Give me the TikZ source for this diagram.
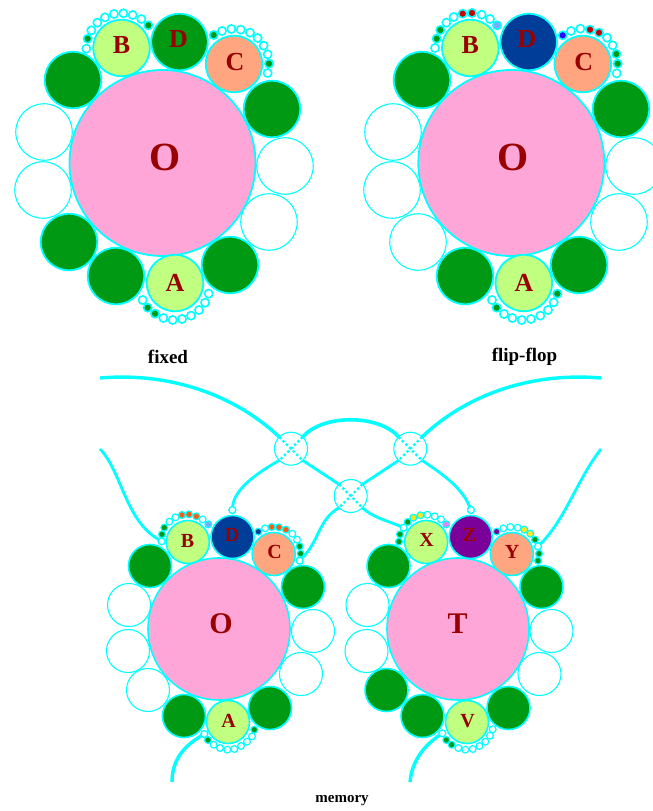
\documentclass[tikz,border=0pt]{standalone}
\usepackage{fontspec}
\setmainfont{Liberation Serif}
\definecolor{cyn}{HTML}{00FFFF}
\definecolor{pk}{HTML}{FFA6D9}
\definecolor{lg}{HTML}{C0FF80}
\definecolor{sal}{HTML}{FFA680}
\definecolor{gr}{HTML}{009914}
\definecolor{dbl}{HTML}{003D99}
\definecolor{pur}{HTML}{7A0099}
\definecolor{rd}{HTML}{CC0000}
\definecolor{org}{HTML}{FF5A0F}
\definecolor{yel}{HTML}{FFE614}
\definecolor{lbl}{HTML}{80A6FF}
\definecolor{vio}{HTML}{E680FF}
\definecolor{blu}{HTML}{3300FF}
\definecolor{txt}{HTML}{990000}
\tikzset{
  x=1pt,y=-1pt,
  ball/.style={circle,draw=cyn,inner sep=0pt,outer sep=0pt,line width=1.8pt},
  bigO/.style={ball,minimum size=186pt,fill=pk},
  bigS/.style={ball,minimum size=56.5pt},
  bigE/.style={bigS,fill=white,line width=1.1pt},
  midO/.style={ball,minimum size=142pt,fill=pk,line width=1.6pt},
  midS/.style={ball,minimum size=43pt,line width=1.6pt},
  midE/.style={midS,fill=white,line width=1.1pt},
  beadL/.style={ball,minimum size=8.2pt,line width=1.6pt},
  beadS/.style={ball,minimum size=6.8pt,line width=1.2pt},
  cross/.style={ball,minimum size=33pt,line width=1.1pt,fill=white},
  ltr/.style={inner sep=0pt,text=txt,font=\bfseries\fontsize{#1}{#1}\selectfont},
  cap/.style={inner sep=0pt,text=black,font=\bfseries\fontsize{#1}{#1}\selectfont},
  wire/.style={draw=cyn,line width=3.4pt},
  wireT/.style={draw=cyn,line width=2.8pt},
  xdash/.style={draw=cyn,line width=2.4pt,dash pattern=on 2.4pt off 2.4pt}
}
% prefix, origin x, origin y, style, list of zoomx/zoomy/colour
\newcommand{\beadset}[5]{%
  \foreach \zx/\zy/\cc [count=\ii] in {#5}
    \node[#4,fill=\cc] (#1\ii) at ({#2+\zx/3},{#3+\zy/3}) {};}
\newcommand{\bl}[4]{\node[bigS,fill=#4] (#1) at (#2,#3) {};}
\newcommand{\be}[3]{\node[bigE] (#1) at (#2,#3) {};}
\newcommand{\ml}[4]{\node[midS,fill=#4] (#1) at (#2,#3) {};}
\newcommand{\me}[3]{\node[midE] (#1) at (#2,#3) {};}
\begin{document}
\begin{tikzpicture}
\clip (0,0) rectangle (653,811);
\fill[white] (0,0) rectangle (653,811);

\node[cross] (c1) at (291,448.7) {};
\node[cross] (c2) at (410.3,448.7) {};
\node[cross] (c3) at (350.7,496) {};
\coordinate (tl) at (100,378);
\coordinate (tr) at (601,378);
\coordinate (ml) at (100,449);
\coordinate (mr) at (601,449);
\coordinate (bl) at (172,782);
\coordinate (br) at (410,782);

% ---------- fixed
\beadset{fb}{70}{0}{beadL}{49/146/white,53/116/gr,64/91/white,82/68/white,105/52/white,132/42/white,160/40/white,188/45/white,214/57/white,235/76/gr}
\beadset{fc}{70}{0}{beadL}{431/105/gr,456/93/white,484/87/white,512/89/white,540/98/white,563/114/white,581/137/white,593/163/white,597/191/gr,593/219/white}
\beadset{fa}{130}{260}{beadL}{38/120/white,53/143/gr,75/161/gr,100/174/white,128/180/white,156/177/white,183/167/white,207/150/white,225/128/white,236/101/white}
\node[bigO] (fO) at (162.5,163) {};
\bl{f1}{73}{80}{gr}
\bl{f2}{272}{109}{gr}
\be{f3}{285}{166}
\be{f4}{269}{222}
\bl{f5}{230}{265}{gr}
\bl{f6}{116}{276}{gr}
\bl{f7}{69}{242}{gr}
\be{f8}{43}{190}
\be{f9}{44}{132}
\bl{fB}{121.5}{48}{lg}
\bl{fD}{179.5}{42}{gr}
\bl{fC}{234}{64}{sal}
\bl{fA}{175}{283}{lg}
\node[ltr=40] (fOt) at (165,157) {O};
\node[ltr=26] (fBt) at (121.5,45) {B};
\node[ltr=26] (fDt) at (178.5,39) {D};
\node[ltr=26] (fCt) at (235,62) {C};
\node[ltr=26] (fAt) at (175,283) {A};
\node[cap=19] (fcap) at (168,356.5) {fixed};

% ---------- flip-flop
\beadset{gb}{420}{0}{beadL}{45/144/white,50/116/gr,61/90/gr,79/68/white,101/51/white,128/41/rd,156/39/rd,185/44/white,210/57/white,231/76/lbl}
\beadset{gc}{420}{0}{beadL}{428/106/blu,453/93/white,481/86/white,510/89/rd,537/98/rd,561/113/white,578/136/white,589/162/gr,593/191/gr,590/220/white}
\beadset{ga}{480}{260}{beadL}{36/120/white,50/143/gr,72/162/white,97/174/white,125/180/white,153/177/white,181/167/white,204/150/white,221/127/white,232/101/gr}
\node[bigO] (gO) at (511.3,163) {};
\bl{g1}{422}{80}{gr}
\bl{g2}{621}{109}{gr}
\be{g3}{634}{166}
\be{g4}{619}{222}
\bl{g5}{579}{265}{gr}
\bl{g6}{465}{276}{gr}
\be{g7}{418}{242}
\be{g8}{392}{190}
\be{g9}{393}{132}
\bl{gB}{470.3}{48}{lg}
\bl{gD}{528.7}{42}{dbl}
\bl{gC}{582.8}{64}{sal}
\bl{gA}{523.8}{283}{lg}
\node[ltr=40] (gOt) at (513.5,157) {O};
\node[ltr=26] (gBt) at (470.3,45) {B};
\node[ltr=26] (gDt) at (527,39) {D};
\node[ltr=26] (gCt) at (583.8,62) {C};
\node[ltr=26] (gAt) at (524,283) {A};
\node[cap=19] (gcap) at (524.5,356.5) {flip-flop};

% ---------- memory, O side
\beadset{mb}{150}{500}{beadS}{35/124/white,36/103/gr,43/83/gr,58/65/white,76/52/white,96/45/org,117/43/org,139/49/org,158/58/white,175/73/lbl}
\beadset{mc}{150}{500}{beadS}{325/95/dbl,345/85/white,365/81/org,387/82/org,408/89/org,427/101/white,441/119/white,449/139/gr,452/161/gr,449/182/white}
\beadset{md}{150}{500}{beadS}{247/30/white}
\beadset{ma}{160}{700}{beadS}{133/102/white,144/120/gr,161/134/white,180/144/white,202/149/white,223/147/white,243/138/white,261/125/white,276/109/white,283/89/gr}
% ---------- memory, T side
\beadset{nb}{385}{500}{beadS}{42/125/gr,45/103/gr,56/83/white,68/66/gr,85/53/yel,106/46/yel,127/44/white,149/49/white,168/58/white,184/73/vio}
\beadset{nc}{385}{500}{beadS}{335/95/pur,355/85/white,376/81/white,398/83/white,418/89/yel,436/101/yel,450/119/gr,459/139/white,462/161/gr,459/182/gr}
\beadset{nd}{385}{500}{beadS}{258/30/white}
\beadset{na}{400}{700}{beadS}{127/100/white,139/120/gr,155/134/gr,175/144/white,196/149/white,218/147/white,238/138/white,256/125/white,270/107/white,278/88/white}

% ---------- connectors
\draw[wire] (tl) .. controls (170,372) and (235,395) .. (c1.135);
\draw[wire] (tr) .. controls (530,372) and (466,395) .. (c2.45);
\draw[wire,line width=3.6pt] (c1.45) .. controls (322,414) and (379,414) .. (c2.135);
\draw[wireT] (c1.225) .. controls (255,474) and (234,490) .. (md1);
\draw[wireT] (c1.315) -- (c3.135);
\draw[wireT] (c2.225) -- (c3.45);
\draw[wireT] (c2.315) .. controls (444,475) and (462,488) .. (nd1);
\draw[wireT] (c3.225) .. controls (318,520) and (320,540) .. (mc10);
\draw[wireT] (c3.315) .. controls (372,517) and (385,520) .. (nb3);
\draw[wireT] (ml) .. controls (122,472) and (125,520) .. (mb1);
\draw[wireT] (mr) .. controls (578,478) and (565,520) .. (nc8);
\draw[wire] (bl) .. controls (172,758) and (186,745) .. (ma1);
\draw[wire] (br) .. controls (412,760) and (425,745) .. (na1);
\draw[xdash] (c1.135) -- (c1.315);
\draw[xdash] (c1.45) -- (c1.225);
\draw[xdash] (c2.135) -- (c2.315);
\draw[xdash] (c2.45) -- (c2.225);
\draw[xdash] (c3.135) -- (c3.315);
\draw[xdash] (c3.45) -- (c3.225);
% connected beads on top of their wires
\node[beadS,fill=white] (md1b) at (md1) {};
\node[beadS,fill=white] (nd1b) at (nd1) {};
\node[beadS,fill=white] (mc10b) at (mc10) {};
\node[beadS,fill=white] (nb3b) at (nb3) {};
\node[beadS,fill=white] (mb1b) at (mb1) {};
\node[beadS,fill=white] (nc8b) at (nc8) {};
\node[beadS,fill=white] (ma1b) at (ma1) {};
\node[beadS,fill=white] (na1b) at (na1) {};

% ---------- memory circles
\node[midO] (mO) at (219,629) {};
\ml{m1}{150}{566}{gr}
\ml{m2}{303}{587}{gr}
\me{m3}{313}{631}
\me{m4}{301}{674}
\ml{m5}{270}{708}{gr}
\ml{m6}{184}{716}{gr}
\me{m7}{148}{690}
\me{m8}{128}{651}
\me{m9}{129}{605}
\ml{mB}{187.8}{542}{lg}
\ml{mD}{232.5}{537}{dbl}
\ml{mC}{273.7}{554}{sal}
\ml{mA}{228}{722}{lg}
\node[ltr=30] (mOt) at (221,624) {O};
\node[ltr=20] (mBt) at (187.5,541) {B};
\node[ltr=20] (mDt) at (232,535) {D};
\node[ltr=20] (mCt) at (274.5,552) {C};
\node[ltr=20] (mAt) at (228.5,721) {A};

\node[midO] (nO) at (458,629) {};
\ml{n1}{388.5}{566}{gr}
\ml{n2}{541.5}{587}{gr}
\me{n3}{551.5}{631}
\me{n4}{539.5}{674}
\ml{n5}{508.5}{708}{gr}
\ml{n6}{422.5}{716}{gr}
\ml{n7}{386.5}{690}{gr}
\me{n8}{366.5}{651}
\me{n9}{367.5}{605}
\ml{nX}{426.2}{542}{lg}
\ml{nZ}{470.7}{537}{pur}
\ml{nY}{511.8}{554}{sal}
\ml{nV}{467}{722}{lg}
\node[ltr=30] (nOt) at (457.5,624) {T};
\node[ltr=20] (nXt) at (426.5,540) {X};
\node[ltr=20] (nZt) at (469.5,535) {Z};
\node[ltr=20] (nYt) at (512,552) {Y};
\node[ltr=20] (nVt) at (467.5,721) {V};
\node[cap=15] (mcap) at (342,801) {memory};
\end{tikzpicture}
\end{document}
